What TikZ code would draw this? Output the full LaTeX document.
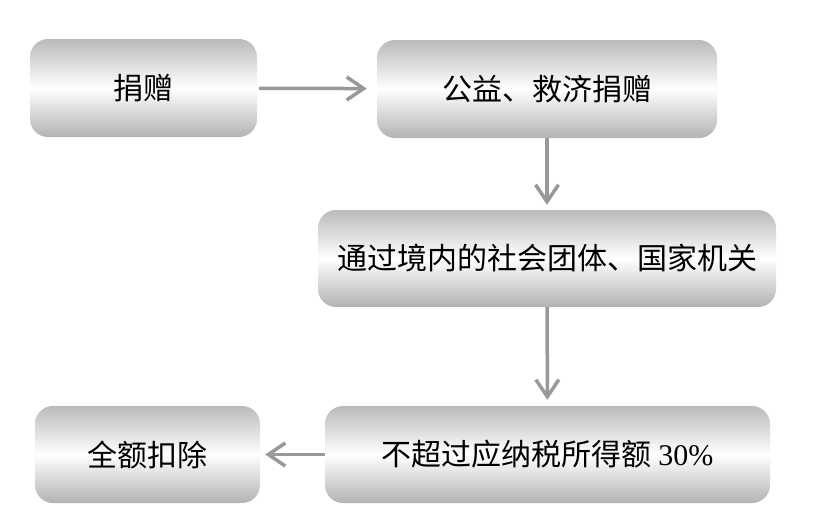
\documentclass[tikz,border=0pt]{standalone}
\usepackage{fontspec}
\setmainfont{Liberation Serif}
\newfontfamily\cjk{Noto Sans CJK SC}
\usetikzlibrary{arrows.meta}
\tikzset{
  flowbox/.style={rounded corners=18pt, inner sep=0pt, top color=black!27,
    bottom color=black!30, middle color=white, font=\fontsize{30}{35}\selectfont\cjk},
  flowarr/.style={draw=black!40, line width=3.5pt, -{Straight Barb[length=17pt,width=23pt]}}
}
\begin{document}
\begin{tikzpicture}[x=1pt, y=-1pt]
\useasboundingbox (0,0) rectangle (822,523);
\node[flowbox, minimum width=227pt, minimum height=98pt] (donate) at (143.5,88) {捐赠};
\node[flowbox, minimum width=340pt, minimum height=98pt] (relief) at (547,89) {公益、救济捐赠};
\node[flowbox, minimum width=458pt, minimum height=97pt] (organ) at (547,258.5) {通过境内的社会团体、国家机关};
\node[flowbox, minimum width=445pt, minimum height=97pt] (limit) at (547.5,454.5) {不超过应纳税所得额 {\rmfamily 30\%}};
\node[flowbox, minimum width=225pt, minimum height=97pt] (full) at (147.5,454.5) {全额扣除};
\draw[flowarr, shorten <=2pt, shorten >=10pt] (donate) -- (relief);
\draw[flowarr, shorten >=5pt] (relief) -- (organ);
\draw[flowarr, shorten >=6pt] (organ) -- (limit);
\draw[flowarr, shorten >=5pt] (limit) -- (full);
\end{tikzpicture}
\end{document}
